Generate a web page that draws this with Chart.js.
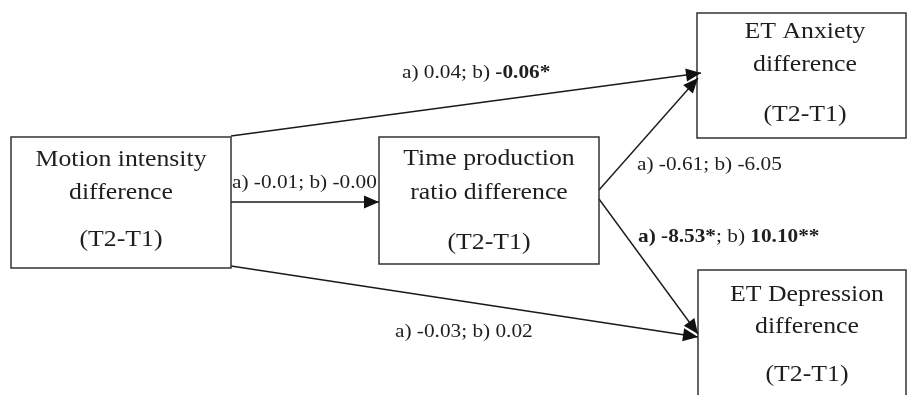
<!DOCTYPE html>
<html>
<head>
<meta charset="utf-8">
<script src="https://cdn.jsdelivr.net/npm/chart.js@4.4.1/dist/chart.umd.min.js"></script>
<style>
  body { margin: 0; background: #fff; }
  canvas { display: block; }
</style>
</head>
<body>
<canvas id="diagram" width="908" height="395"></canvas>
<script>
// Variables del modelo (nodos)
var nodeNames = [
    ["Motion intensity", "difference", "(T2-T1)"],
    ["Time production", "ratio difference", "(T2-T1)"],
    ["ET Anxiety", "difference", "(T2-T1)"],
    ["ET Depression", "difference", "(T2-T1)"]
];

// Caminos: desde -> hacia, coeficientes a) y b) con asteriscos de significancia
var pathFrom = [0, 0, 1, 1, 0];
var pathTo   = [2, 1, 2, 3, 3];
var aCoef  = [0.04, -0.01, -0.61, -8.53, -0.03];
var aStars = ["", "", "", "*", ""];
var bCoef  = [-0.06, -0, -6.05, 10.10, 0.02];
var bStars = ["*", "", "", "**", ""];

// Posiciones del diagrama (en unidades de los ejes)
var layout = {
    boxes: [
        { x0: 11,  y0: 137, x1: 231, y1: 268, cx: 121, lines: [160, 193, 240] },
        { x0: 379, y0: 137, x1: 599, y1: 264, cx: 489, lines: [159, 193, 243] },
        { x0: 697, y0: 13,  x1: 906, y1: 138, cx: 805, lines: [32, 65, 115] },
        { x0: 698, y0: 270, x1: 906, y1: 420, cx: 807, lines: [295, 327, 375] }
    ],
    edges: [
        { x0: 231, y0: 136, x1: 701, y1: 73 },
        { x0: 231, y0: 202, x1: 379, y1: 202 },
        { x0: 599, y0: 190, x1: 698, y1: 78 },
        { x0: 599, y0: 199, x1: 698, y1: 334 },
        { x0: 231, y0: 266, x1: 698, y1: 337 }
    ],
    labels: [
        { x: 402, y: 73 },
        { x: 232, y: 183 },
        { x: 637, y: 165 },
        { x: 638, y: 237 },
        { x: 395, y: 332 }
    ]
};

// estiramiento horizontal del texto (la imagen original está algo ensanchada)
var stretch = 1.12;

function fmt(v) {
    var neg = v < 0 || Object.is(v, -0);
    return (neg ? "-" : "") + Math.abs(v).toFixed(2);
}

// Segmentos de texto de cada etiqueta (negrita si es significativo)
function labelSegments(i) {
    var aBold = aStars[i] !== "";
    var bBold = bStars[i] !== "";
    return [
        { t: "a) ", b: aBold },
        { t: fmt(aCoef[i]) + aStars[i], b: aBold },
        { t: "; b) ", b: false },
        { t: fmt(bCoef[i]) + bStars[i], b: bBold }
    ];
}

function drawText(ctx, str, x, y) {
    ctx.save();
    ctx.translate(x, y);
    ctx.scale(stretch, 1);
    ctx.fillText(str, 0, 0);
    ctx.restore();
}

var datasets = pathFrom.map(function(f, i) {
    var e = layout.edges[i];
    return {
        label: nodeNames[f][0] + " -> " + nodeNames[pathTo[i]][0],
        data: [{ x: e.x0, y: e.y0 }, { x: e.x1, y: e.y1 }],
        showLine: true,
        borderColor: "#1a1a1a",
        borderWidth: 1.4,
        pointRadius: 0
    };
});

var pathPlugin = {
    id: "pathPlugin",
    afterDatasetsDraw: function(chart) {
        var ctx = chart.ctx;
        var xs = chart.scales.x, ys = chart.scales.y;
        var px = function(v) { return xs.getPixelForValue(v); };
        var py = function(v) { return ys.getPixelForValue(v); };
        ctx.save();

        // cajas
        layout.boxes.forEach(function(b, i) {
            ctx.strokeStyle = "#333";
            ctx.lineWidth = 1.5;
            ctx.strokeRect(px(b.x0), py(b.y0), px(b.x1) - px(b.x0), py(b.y1) - py(b.y0));
            ctx.fillStyle = "#1e1e1e";
            ctx.font = "23px 'Liberation Serif'";
            ctx.textAlign = "center";
            ctx.textBaseline = "middle";
            nodeNames[i].forEach(function(line, k) {
                drawText(ctx, line, px(b.cx), py(b.lines[k]));
            });
        });

        // puntas de flecha
        layout.edges.forEach(function(e) {
            var x1 = px(e.x1), y1 = py(e.y1);
            var ang = Math.atan2(y1 - py(e.y0), x1 - px(e.x0));
            var len = 15, half = 6.5;
            ctx.fillStyle = "#111";
            ctx.beginPath();
            ctx.moveTo(x1, y1);
            ctx.lineTo(x1 - len * Math.cos(ang) + half * Math.sin(ang), y1 - len * Math.sin(ang) - half * Math.cos(ang));
            ctx.lineTo(x1 - len * Math.cos(ang) - half * Math.sin(ang), y1 - len * Math.sin(ang) + half * Math.cos(ang));
            ctx.closePath();
            ctx.fill();
        });

        // etiquetas de coeficientes
        ctx.textAlign = "left";
        ctx.textBaseline = "middle";
        ctx.fillStyle = "#1e1e1e";
        layout.labels.forEach(function(l, i) {
            var x = px(l.x), y = py(l.y);
            labelSegments(i).forEach(function(s) {
                ctx.font = (s.b ? "bold " : "") + "19px 'Liberation Serif'";
                drawText(ctx, s.t, x, y);
                x += ctx.measureText(s.t).width * stretch;
            });
        });
        ctx.restore();
    }
};

var ctx = document.getElementById("diagram").getContext("2d");
var diagram = new Chart(ctx, {
    type: "scatter",
    data: { datasets: datasets },
    options: {
        responsive: false,
        animation: false,
        devicePixelRatio: 1,
        layout: { padding: 0 },
        plugins: { legend: { display: false }, tooltip: { enabled: false } },
        scales: {
            x: { type: "linear", min: 0, max: 908, display: false },
            y: { type: "linear", min: 0, max: 395, reverse: true, display: false }
        }
    },
    plugins: [pathPlugin]
});
</script>
</body>
</html>
